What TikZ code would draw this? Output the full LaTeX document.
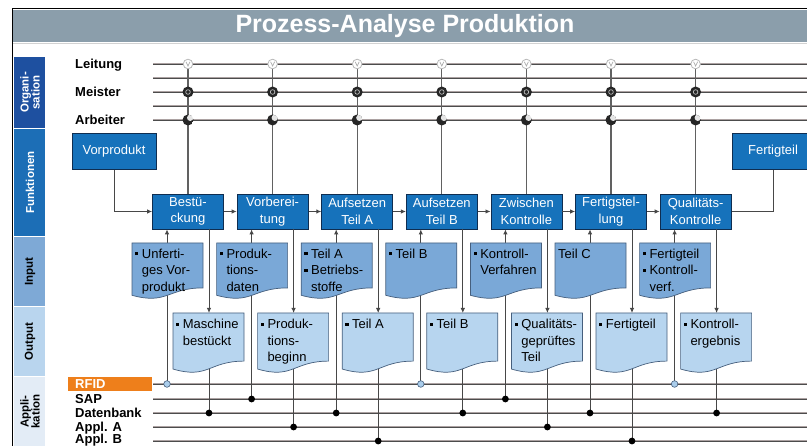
\documentclass[tikz,border=0pt]{standalone}
\usepackage{fontspec}
\setmainfont{Liberation Sans}
\usetikzlibrary{arrows.meta}
\definecolor{titlebg}{RGB}{139,158,171}
\definecolor{orgc}{RGB}{30,80,160}
\definecolor{funcc}{RGB}{28,110,182}
\definecolor{inc}{RGB}{126,169,214}
\definecolor{outc}{RGB}{185,213,238}
\definecolor{appc}{RGB}{227,236,246}
\definecolor{boxc}{RGB}{22,114,187}
\definecolor{boxb}{RGB}{15,45,80}
\definecolor{docin}{RGB}{122,168,215}
\definecolor{docout}{RGB}{183,213,239}
\definecolor{docb}{RGB}{70,95,125}
\definecolor{railc}{RGB}{172,162,162}
\definecolor{rfidc}{RGB}{238,127,27}
\definecolor{rfiddot}{RGB}{170,205,235}
\newcommand\bul{\rule[3pt]{3.2pt}{3.2pt}}
\newcommand\fsz{\fontsize{13}{16.5}\selectfont}
\newcommand\bl[1]{\begin{tabular}[t]{@{}l@{\hspace{3.5pt}}l@{}}#1\end{tabular}}
\newcommand\docsh[4]{\draw[#1] (#2,#3) -- ({#2+71},#3) -- ({#2+71},{#3+0.802*#4}) .. controls ({#2+35.5},{#3+0.802*#4}) and ({#2+35.5},{#3+1.107*#4}) .. (#2,{#3+0.934*#4}) -- cycle;}
\begin{document}
\begin{tikzpicture}[x=1pt,y=-1pt,
  fbox/.style={draw=boxb, fill=boxc, line width=0.8, minimum width=71, minimum height=35, inner sep=0, align=center, text=white, font=\fsz},
  ebox/.style={fbox, minimum width=84, minimum height=36},
  conn/.style={draw=black!72, line width=0.9},
  orgv/.style={draw=black!62, line width=1.2},
  arr/.style={-{Latex[length=5,width=4.5]}},
  rail/.style={draw=railc, line width=2.4},
  railcore/.style={draw=black!70, line width=0.7},
  rowlab/.style={anchor=base west, font=\bfseries\fsz, inner sep=0},
  sidelab/.style={rotate=90, align=center, inner sep=0, font=\bfseries\fontsize{11.5}{11}\selectfont},
  indoc/.style={draw=docb, fill=docin, line width=0.7},
  outdoc/.style={draw=docb, fill=docout, line width=0.7},
  dtext/.style={anchor=north west, inner sep=0, font=\fsz},
  appdot/.style={fill=black},
  rfdot/.style={fill=rfiddot, draw=docb, line width=0.6},
]
\useasboundingbox (0,0) rectangle (807,446);
\clip (0,0) rectangle (807,446);
\fill[white] (0,0) rectangle (807,446);
% title
\fill[titlebg] (13,10) rectangle (807,42);
\draw[black, line width=1] (12.5,446) -- (12.5,9) -- (807,9);
\draw[gray!35, line width=1] (13,43.5) -- (807,43.5);
\node[font=\bfseries\fontsize{25}{30}\selectfont, text=white, inner sep=0] (title) at (405,26.5) {Prozess-Analyse Produktion};
% sidebar
\fill[orgc] (14,57) rectangle (45,128);
\fill[funcc] (14,129) rectangle (45,236);
\fill[inc] (14,237) rectangle (45,306);
\fill[outc] (14,307) rectangle (45,376);
\fill[appc] (14,377) rectangle (45,446);
\node[sidelab, text=white] (s1) at (30,92.5) {Organi-\\sation};
\node[sidelab, text=white] (s2) at (30,182.5) {Funktionen};
\node[sidelab] (s3) at (30,271.5) {Input};
\node[sidelab] (s4) at (30,341.5) {Output};
\node[sidelab] (s5) at (30,411.5) {Appli-\\kation};
% rails
\foreach \y in {64,78,92,106,120,384,399,413,427,441} {
  \draw[rail] (153,\y) -- (807,\y);
  \draw[railcore] (153,\y) -- (807,\y);
}
% row labels
\node[rowlab] (lt) at (75,68.6) {Leitung};
\node[rowlab] (ms) at (75,96.6) {Meister};
\node[rowlab] (ab) at (75,124.6) {Arbeiter};
\node[fill=rfidc, anchor=west, minimum height=14, inner xsep=7, inner ysep=0, text width=70, text=white, font=\bfseries\fsz] (rfid) at (68,384.5) {RFID};
\node[rowlab] (sap) at (75,403.6) {SAP};
\node[rowlab] (db) at (75,417.6) {Datenbank};
\node[rowlab] (apa) at (75,431.3) {Appl. A};
\node[rowlab] (apb) at (75,443.3) {Appl. B};
% function boxes
\node[fbox] (f0) at (188,211.5) {Bestü-\\ckung};
\node[fbox] (f1) at (272.6,211.5) {Vorberei-\\tung};
\node[fbox] (f2) at (357.2,211.5) {Aufsetzen\\Teil A};
\node[fbox] (f3) at (441.8,211.5) {Aufsetzen\\Teil B};
\node[fbox] (f4) at (526.4,211.5) {Zwischen\\Kontrolle};
\node[fbox] (f5) at (611,211.5) {Fertigstel-\\lung};
\node[fbox] (f6) at (695.6,211.5) {Qualitäts-\\Kontrolle};
\node[ebox] (vp) at (114,151.5) {Vorprodukt};
\node[ebox, minimum width=82] (ft) at (773,151.5) {Fertigteil};
% flow
\foreach \a/\b in {f0/f1,f1/f2,f2/f3,f3/f4,f4/f5,f5/f6}
  \draw[conn,arr] (\a) -- (\b);
\draw[conn,arr] (vp) |- (f0);
\draw[conn] (f6) -| (ft);
% org verticals
\foreach \i/\c in {0/188,1/272.6,2/357.2,3/441.8,4/526.4,5/611,6/695.6} {
  \coordinate (L\i) at (\c,64);
  \coordinate (M\i) at (\c,92);
  \coordinate (A\i) at (\c,120);
  \draw[orgv] (L\i) -- (f\i.north);
}
% application connectors
\foreach \i/\c/\iy/\oy in {0/188/384/413,1/272.6/399/427,2/357.2/413/441,3/441.8/384/413,4/526.4/399/427,5/611/413/441,6/695.6/384/413} {
  \coordinate (ai\i) at ({\c-21},\iy);
  \coordinate (ao\i) at ({\c+21},\oy);
  \coordinate (ot\i) at ({\c+21},313);
  \draw[conn,arr] (ai\i) -- (ai\i |- f\i.south);
  \draw[conn,arr] (ao\i |- f\i.south) -- (ot\i);
  \draw[conn] (ot\i) -- (ao\i);
}
% documents
\foreach \c in {188,272.6,357.2,441.8,526.4,611,695.6} {
  \pgfmathsetmacro\l{\c-56}
  \docsh{indoc}{\l}{243}{56}
  \pgfmathsetmacro\m{\c-15}
  \docsh{outdoc}{\m}{313}{60}
}
% input texts
\node[dtext] (it0) at (135,246.5) {\bl{\bul & Unferti-\\ & ges Vor-\\ & produkt}};
\node[dtext] (it1) at (219.6,246.5) {\bl{\bul & Produk-\\ & tions-\\ & daten}};
\node[dtext] (it2) at (304.2,246.5) {\bl{\bul & Teil A\\ \bul & Betriebs-\\ & stoffe}};
\node[dtext] (it3) at (388.8,246.5) {\bl{\bul & Teil B}};
\node[dtext] (it4) at (473.4,246.5) {\bl{\bul & Kontroll-\\ & Verfahren}};
\node[dtext] (it5) at (558,246.5) {\begin{tabular}[t]{@{}l@{}}Teil C\end{tabular}};
\node[dtext] (it6) at (642.6,246.5) {\bl{\bul & Fertigteil\\ \bul & Kontroll-\\ & verf.}};
% output texts
\node[dtext] (ot0x) at (176,317) {\bl{\bul & Maschine\\ & bestückt}};
\node[dtext] (ot1x) at (260.6,317) {\bl{\bul & Produk-\\ & tions-\\ & beginn}};
\node[dtext] (ot2x) at (345.2,317) {\bl{\bul & Teil A}};
\node[dtext] (ot3x) at (429.8,317) {\bl{\bul & Teil B}};
\node[dtext] (ot4x) at (514.4,317) {\bl{\bul & Qualitäts-\\ & geprüftes\\ & Teil}};
\node[dtext] (ot5x) at (599,317) {\bl{\bul & Fertigteil}};
\node[dtext] (ot6x) at (683.6,317) {\bl{\bul & Kontroll-\\ & ergebnis}};
% dots on application lines
\foreach \i in {0,3,6} \filldraw[rfdot] (ai\i) circle (3.3);
\foreach \i in {1,2,4,5} \fill[appdot] (ai\i) circle (3.4);
\foreach \i in {0,...,6} \fill[appdot] (ao\i) circle (3.4);
% org symbols
\foreach \i in {0,...,6} {
  \filldraw[fill=white, draw=gray!55, line width=0.8] (L\i) circle (4.8);
  \begin{scope}[shift={(L\i)}]
    \draw[gray!65, line width=0.7] (-2,-2.2) -- (0,2) -- (2,-2.2);
  \end{scope}
  \fill[black!85] (M\i) circle (5.5);
  \draw[gray!55, line width=0.7] (M\i) circle (2.3);
  \begin{scope}[shift={(A\i)}]
    \clip (0,0) circle (5.5);
    \fill[black!85] (0,0) circle (5.5);
    \fill[gray!20] (2.2,-2.2) circle (3.2);
  \end{scope}
}
\end{tikzpicture}
\end{document}
